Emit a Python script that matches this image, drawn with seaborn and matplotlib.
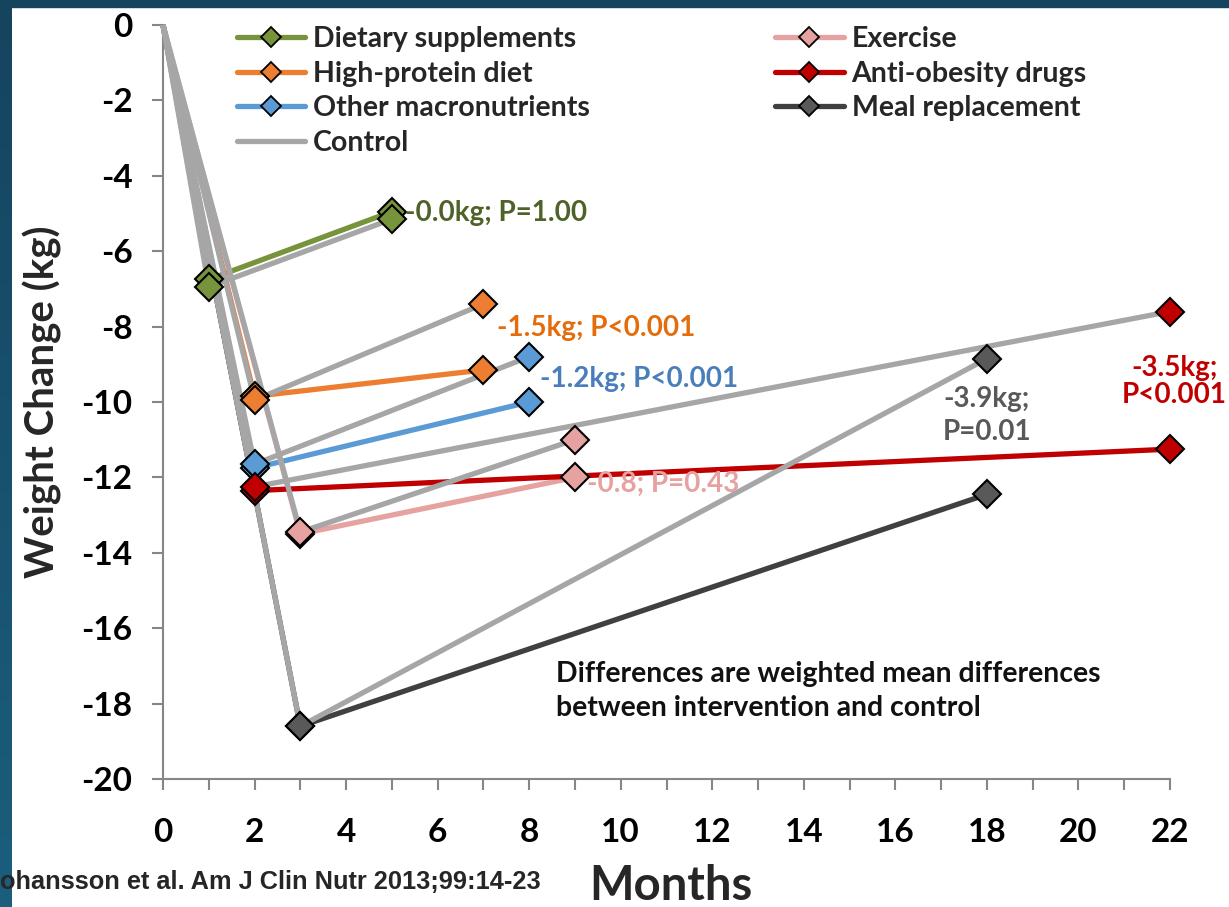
import numpy as np
import pandas as pd
import matplotlib
matplotlib.use("Agg")
import matplotlib.pyplot as plt
from matplotlib.lines import Line2D
import seaborn as sns

# ---- data (months, weight change in kg) ----
groups = ["Dietary supplements", "High-protein diet", "Other macronutrients",
          "Exercise", "Anti-obesity drugs", "Meal replacement"]

dietary_months = [0, 1, 5]
dietary_int = [0, -6.75, -4.95]
dietary_ctl = [0, -6.95, -5.15]

protein_months = [0, 2, 7]
protein_int = [0, -9.85, -9.15]
protein_ctl = [0, -9.95, -7.4]

macro_months = [0, 2, 8]
macro_int = [0, -11.75, -10.0]
macro_ctl = [0, -11.65, -8.8]

exercise_months = [0, 3, 9]
exercise_int = [0, -13.5, -12.0]
exercise_ctl = [0, -13.45, -11.0]

drugs_months = [0, 2, 22]
drugs_int = [0, -12.35, -11.25]
drugs_ctl = [0, -12.25, -7.6]

meal_months = [0, 3, 18]
meal_int = [0, -18.6, -12.45]
meal_ctl = [0, -18.6, -8.85]

diff_labels = ["-0.0kg; P=1.00", "-1.5kg; P<0.001", "-1.2kg; P<0.001",
               "-0.8; P=0.43", "-3.5kg;\nP<0.001", "-3.9kg;\nP=0.01"]

x_ticks = list(range(0, 23, 2))
y_ticks = list(range(-20, 1, 2))

# ---- styling ----
line_colors = ["#77933c", "#ed7d31", "#5b9bd5", "#e6a1a1", "#c00000", "#404040"]
marker_colors = ["#77933c", "#ed7d31", "#5b9bd5", "#e6a1a1", "#c00000", "#595959"]
text_colors = ["#4f6228", "#e46c0a", "#4a7ebb", "#e6a1a1", "#c00000", "#595959"]
control_color = "#a6a6a6"
axis_gray = "#868686"

rows = []
series = [
    (dietary_months, dietary_int, dietary_ctl),
    (protein_months, protein_int, protein_ctl),
    (macro_months, macro_int, macro_ctl),
    (exercise_months, exercise_int, exercise_ctl),
    (drugs_months, drugs_int, drugs_ctl),
    (meal_months, meal_int, meal_ctl),
]
for g, (m, yi, yc) in zip(groups, series):
    for mm, a, b in zip(m, yi, yc):
        rows.append({"group": g, "arm": "intervention", "month": mm, "change": a})
        rows.append({"group": g, "arm": "control", "month": mm, "change": b})
df = pd.DataFrame(rows)

sns.set_theme(style="white")
plt.rcParams["font.family"] = ["Lato", "DejaVu Sans"]
plt.rcParams["font.weight"] = "bold"

fig = plt.figure(figsize=(12.29, 9.07), dpi=100)
fig.patch.set_facecolor("white")
ax = fig.add_axes([163 / 1229, 1 - 779 / 907, (1170 - 163) / 1229, (779 - 25) / 907])

lw = 3.8
ms = 14.5
for i, g in enumerate(groups):
    sub = df[df["group"] == g]
    for arm, col, z in [("intervention", line_colors[i], 3), ("control", control_color, 4)]:
        d = sub[sub["arm"] == arm]
        sns.lineplot(data=d, x="month", y="change", ax=ax, color=col, lw=lw,
                     estimator=None, sort=True, zorder=z, clip_on=False,
                     solid_capstyle="butt")
        d2 = d[d["month"] > 0]
        ax.plot(d2["month"], d2["change"], ls="none", marker="D", ms=ms,
                mfc=marker_colors[i], mec="black", mew=1.5, zorder=6, clip_on=False)

ax.set_xlim(0, 22)
ax.set_ylim(-20, 0)
ax.set_xticks(x_ticks)
ax.set_xticks(range(0, 23), minor=True)
ax.set_yticks(y_ticks)
ax.set_xticklabels([str(v) for v in x_ticks])
ax.set_yticklabels([str(v) for v in y_ticks])
ax.tick_params(axis="x", which="both", direction="out", length=8, width=1.5,
               color=axis_gray, bottom=True, pad=20, labelsize=24)
ax.tick_params(axis="y", direction="out", length=8, width=1.5, color=axis_gray,
               left=True, pad=14, labelsize=24)
for lab in ax.get_xticklabels() + ax.get_yticklabels():
    lab.set_fontweight("bold")
    lab.set_color("black")
for s in ["top", "right"]:
    ax.spines[s].set_visible(False)
for s in ["left", "bottom"]:
    ax.spines[s].set_color(axis_gray)
    ax.spines[s].set_linewidth(1.5)
ax.set_xlabel("")
ax.set_ylabel("Weight Change (kg)", fontsize=29, fontweight="bold", labelpad=14)
fig.text(671 / 1229, 1 - 886 / 907, "Months", fontsize=34, fontweight="bold",
         ha="center", va="center")

# difference annotations: (x, y, ha, linespacing)
ann_pos = [(5.29, -4.99, "left", 1.2), (7.30, -8.04, "left", 1.2),
           (8.24, -9.39, "left", 1.2), (9.26, -12.18, "left", 1.2),
           (22.1, -9.45, "center", 1.04), (18.0, -10.36, "center", 1.36)]
ann_colors = text_colors[:6]
for (x, y, ha, lsp), t, c in zip(ann_pos, diff_labels, ann_colors):
    ax.text(x, y, t, color=c, fontsize=20, fontweight="bold", ha=ha, va="center",
            linespacing=lsp, zorder=7, clip_on=False)

ax.text(8.59, -17.66, "Differences are weighted mean differences\nbetween intervention and control",
        fontsize=20.4, fontweight="bold", ha="left", va="center", linespacing=1.36,
        color="#111111")

# legend
handles = []
for i, g in enumerate(groups[:3]):
    handles.append(Line2D([], [], color=line_colors[i], lw=lw, marker="D", ms=10,
                          mfc=marker_colors[i], mec="black", mew=1.3, label=g))
handles.append(Line2D([], [], color=control_color, lw=lw, label="Control"))
for i, g in enumerate(groups[3:], start=3):
    handles.append(Line2D([], [], color=line_colors[i], lw=lw, marker="D", ms=10,
                          mfc=marker_colors[i], mec="black", mew=1.3, label=g))
leg = fig.legend(handles=handles, ncol=2, loc="upper left",
                 bbox_to_anchor=(237 / 1229, 1 - 26 / 907), frameon=False,
                 fontsize=20.5, handlelength=2.4, handletextpad=0.28,
                 columnspacing=6.5, labelspacing=0.3, borderpad=0, borderaxespad=0)
for t in leg.get_texts():
    t.set_fontweight("bold")

# citation
fig.text(0, 1 - 882 / 907, "ohansson et al. Am J Clin Nutr 2013;99:14-23",
         fontsize=18.3, fontweight="bold", family="Liberation Sans", ha="left", va="center",
         zorder=10)

# slide border strips
fig.patches.append(plt.Rectangle((0, 1 - 7 / 907), 1, 7 / 907, transform=fig.transFigure,
                                 color="#15445f", zorder=0))
grad_ax = fig.add_axes([0, 0, 12 / 1229, 1 - 7 / 907], zorder=-1)
grad = np.linspace(0, 1, 256).reshape(-1, 1)
grad_ax.imshow(grad, aspect="auto", cmap=matplotlib.colors.LinearSegmentedColormap.from_list(
    "strip", ["#1b5e7d", "#15445f"]), origin="lower")
grad_ax.axis("off")

fig.savefig("out.png", dpi=100)
